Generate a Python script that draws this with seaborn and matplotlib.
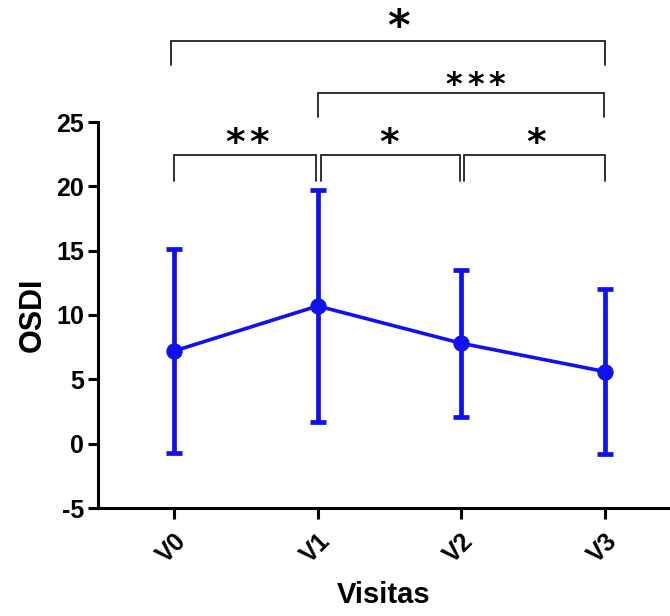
import matplotlib
matplotlib.use("Agg")
import matplotlib.pyplot as plt
import seaborn as sns
import pandas as pd
import numpy as np

categories = ["V0", "V1", "V2", "V3"]
means = [7.2, 10.7, 7.8, 5.6]
sds = [7.9, 9.0, 5.7, 6.4]
yticks = [-5, 0, 5, 10, 15, 20, 25]
# significance brackets: (start index, end index, label)
brackets = [(0, 1, "**"), (1, 2, "*"), (2, 3, "*"), (1, 3, "***"), (0, 3, "*")]

sns.set_theme(style="ticks")
plt.rcParams['font.family'] = ['Liberation Sans', 'DejaVu Sans']
plt.rcParams['text.color'] = 'black'
plt.rcParams['xtick.color'] = 'black'
plt.rcParams['ytick.color'] = 'black'
plt.rcParams['axes.labelcolor'] = 'black'

fig = plt.figure(figsize=(6.7, 6.16), dpi=100)
ax = fig.add_axes([98/670, (616-508)/616, (670-98)/670, (508-122)/616])

df = pd.DataFrame({"x": np.arange(len(categories)), "mean": means, "sd": sds})
blue = "#1010F0"
ax.errorbar(df["x"], df["mean"], yerr=df["sd"], fmt="none", ecolor=blue,
            elinewidth=3.4, capsize=6, capthick=3.4, zorder=2)
sns.lineplot(data=df, x="x", y="mean", ax=ax, color=blue, linewidth=2.6,
             marker="o", markersize=11, markeredgecolor=blue, zorder=3)

ax.set_xlim(-0.529, 3.452)
ax.set_ylim(-5, 25)
ax.set_yticks(yticks)
ax.set_yticklabels([str(t) for t in yticks], fontsize=18, fontweight="bold")
ax.set_xticks(df["x"])
ax.set_xticklabels(categories, rotation=45, ha="right", rotation_mode="anchor",
                   fontsize=18, fontweight="bold")
ax.set_xlabel("Visitas", fontsize=21, fontweight="bold", labelpad=10)
ax.set_ylabel("OSDI", fontsize=22, fontweight="bold", labelpad=6)
for s in ["top", "right"]:
    ax.spines[s].set_visible(False)
for s in ["left", "bottom"]:
    ax.spines[s].set_linewidth(2.2)
    ax.spines[s].set_color("black")
ax.tick_params(axis="both", width=2.2, length=7, color="black", pad=3)
ax.tick_params(axis="x", length=8, pad=7)

# bracket geometry (data y of leg bottom / top line) and star layout in pixels
geo = {
    0: dict(y=(20.4, 22.4), dx=[-10, 14], h=17.5, fs=27, xi=0.0, xj=-0.01),
    1: dict(y=(20.4, 22.4), dx=[-1.5], h=17, fs=27, xi=0.02, xj=-0.01),
    2: dict(y=(20.4, 22.4), dx=[1.5], h=17, fs=27, xi=0.02, xj=0.0),
    3: dict(y=(25.4, 27.25), dx=[-6.5, 15.5, 36.5], h=12, fs=23, xi=0.0, xj=-0.01),
    4: dict(y=(29.4, 31.3), dx=[10.5], h=19, fs=31, xi=-0.02, xj=0.0),
}
for k, (i, j, lab) in enumerate(brackets):
    g = geo[k]
    y0, y1 = g["y"]
    xi, xj = i + g["xi"], j + g["xj"]
    ax.plot([xi, xi, xj, xj], [y0, y1, y1, y0], color="#222222", lw=1.3,
            clip_on=False, zorder=4, solid_joinstyle="miter")
    c = 0.42 * g["fs"] * 100 / 72
    for ch, dx in zip(lab, g["dx"]):
        ax.annotate(ch, xy=((xi + xj) / 2, y1), xytext=(dx, g["h"] - c),
                    textcoords="offset pixels", ha="center", va="baseline",
                    fontsize=g["fs"], fontweight="bold", color="black",
                    family=["DejaVu Sans"], annotation_clip=False)

fig.savefig("out.png", dpi=100)
